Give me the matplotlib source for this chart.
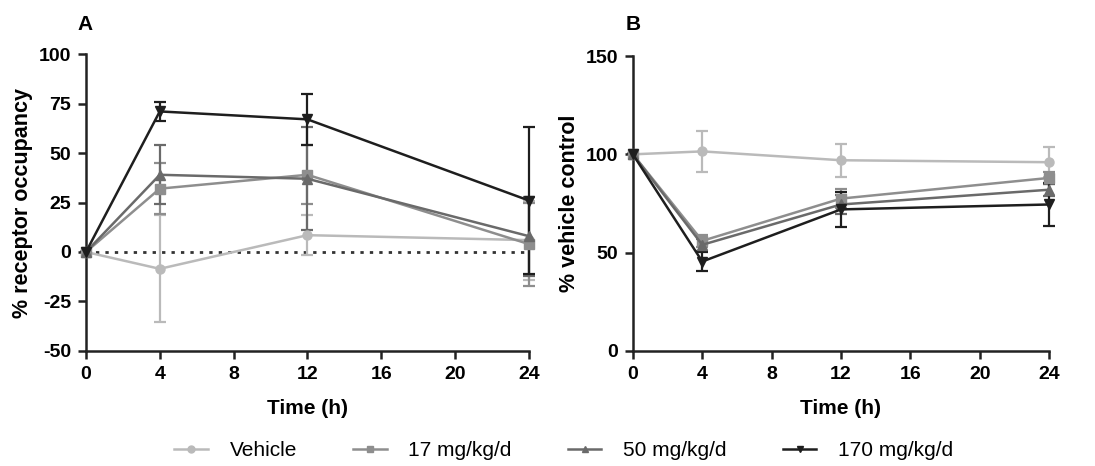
import numpy as np
import matplotlib
matplotlib.use("Agg")
import matplotlib.pyplot as plt
from matplotlib.lines import Line2D

plt.rcParams['font.family'] = ['Liberation Sans', 'DejaVu Sans']
plt.rcParams['axes.unicode_minus'] = False

time_h = [0, 4, 12, 24]
groups = ['Vehicle', '17 mg/kg/d', '50 mg/kg/d', '170 mg/kg/d']
colors = ['#bababa', '#8e8e8e', '#6a6a6a', '#1e1e1e']
markers = ['o', 's', '^', 'v']

# panel A: % receptor occupancy (mean, error)
occ_mean = [[0, -8.5, 8.5, 6],
            [0, 32, 39, 4],
            [0, 39, 37, 8],
            [0, 71, 67, 26]]
occ_err = [[0, 27, 10, 20],
           [0, 13, 15, 21],
           [0, 15, 26, 20],
           [0, 5, 13, 37]]

# panel B: % vehicle control (mean, error)
veh_mean = [[100, 101.5, 97, 96],
            [100, 56, 77.5, 88],
            [100, 54, 74.5, 82],
            [100, 45.5, 72, 74.5]]
veh_err = [[0, 10.5, 8.5, 7.5],
           [0, 3, 5, 3],
           [0, 3, 5, 3],
           [0, 5, 9, 11]]

fig = plt.figure(figsize=(10.95, 4.66), dpi=100)
axA = fig.add_axes([0.0785, 0.2468, 0.4045, 0.6373])
axB = fig.add_axes([0.578, 0.2468, 0.380, 0.633])


def draw(ax, means, errs):
    for m, e, c, mk in zip(means, errs, colors, markers):
        ax.errorbar(time_h, m, yerr=e, color=c, marker=mk, markersize=6.5,
                    linewidth=1.8, elinewidth=1.6, capsize=4, capthick=1.6,
                    clip_on=False, zorder=3)
    for s in ['top', 'right']:
        ax.spines[s].set_visible(False)
    for s in ['left', 'bottom']:
        ax.spines[s].set_linewidth(1.8)
        ax.spines[s].set_color('#222222')
    ax.set_xlim(0, 24)
    ax.set_xticks([0, 4, 8, 12, 16, 20, 24])
    ax.tick_params(width=1.8, length=6, labelsize=14, color='#222222', pad=4.5)
    ax.set_xlabel('Time (h)', fontsize=15, fontweight='bold', labelpad=12)


draw(axA, occ_mean, occ_err)
axA.axhline(0, color='#333333', linestyle=(0, (1.2, 2.2)), linewidth=2, zorder=1)
axA.set_ylim(-50, 100)
axA.set_yticks([-50, -25, 0, 25, 50, 75, 100])
axA.set_ylabel('% receptor occupancy', fontsize=15.5, fontweight='bold', labelpad=4)

draw(axB, veh_mean, veh_err)
axB.set_ylim(0, 150)
axB.set_yticks([0, 50, 100, 150])
axB.set_ylabel('% vehicle control', fontsize=15.5, fontweight='bold', labelpad=4)

for ax in (axA, axB):
    for lb in ax.get_xticklabels() + ax.get_yticklabels():
        lb.set_fontweight('bold')

fig.text(0.071, 0.936, 'A', fontsize=15, fontweight='bold')
fig.text(0.571, 0.936, 'B', fontsize=15, fontweight='bold')

handles = [Line2D([0], [0], color=c, marker=mk, markersize=5, linewidth=1.8)
           for c, mk in zip(colors, markers)]
fig.legend(handles, groups, loc='lower center', ncol=4, frameon=False,
           fontsize=15, bbox_to_anchor=(0.515, -0.028), columnspacing=2.7,
           handlelength=1.6, handletextpad=1.05)

fig.savefig('out.png', dpi=100, facecolor='white')
